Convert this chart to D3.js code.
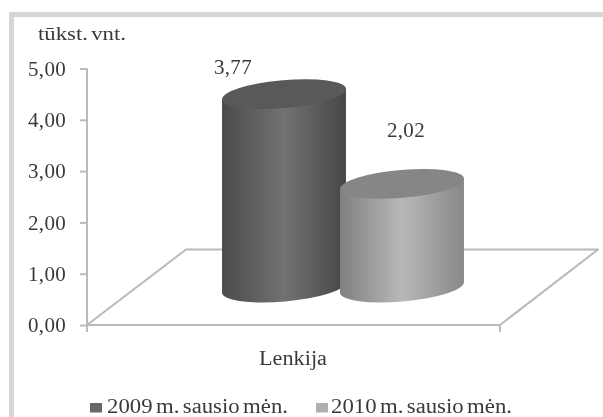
<!DOCTYPE html>
<html><head><meta charset="utf-8">
<script src="https://cdn.jsdelivr.net/npm/d3@7"></script>
<style>html,body{margin:0;padding:0;background:#fff}svg{display:block;filter:blur(0.45px)}text{font-family:"Liberation Serif",serif;fill:#3a3a3a}</style>
</head><body><div id="c"></div>
<script>
const series = ["2009 m. sausio mėn.", "2010 m. sausio mėn."];
const values = [3.77, 2.02];
const labels = ["3,77", "2,02"];
const category = "Lenkija";
const unit = "tūkst. vnt.";
const yTicks = [0, 1, 2, 3, 4, 5];
const sideColors = [["#4b4b4d", "#717274", "#47474a"], ["#7f8082", "#b7b8ba", "#87888a"]];
const topColors = ["#59595b", "#858688"];
const swatches = ["#68686a", "#aeafb1"];

const W = 603, H = 417;
const svg = d3.select("#c").append("svg").attr("width", W).attr("height", H);
const defs = svg.append("defs");
// frame
svg.append("rect").attr("x", 9).attr("y", 12).attr("width", W).attr("height", H).attr("fill", "#d5d6d6");
svg.append("rect").attr("x", 14).attr("y", 17).attr("width", W).attr("height", H).attr("fill", "#fff");

const y = d3.scaleLinear().domain([0, 5]).range([325, 68.5]);
const x = d3.scaleBand().domain(series).range([225, 461]);
const axisColor = "#b9babc";

// floor
const floorBack = 249.5, floorFront = y(0);
svg.append("path").attr("d", d3.line()([[87, floorFront], [186, floorBack], [598, floorBack], [500, floorFront], [87, floorFront]]))
  .attr("fill", "none").attr("stroke", axisColor).attr("stroke-width", 2).attr("stroke-linejoin", "round");

// axis
const ax = svg.append("g").attr("transform", "translate(87,0)").call(
  d3.axisLeft(y).tickValues(yTicks).tickSize(7).tickPadding(14)
    .tickFormat(d => d3.format(".2f")(d).replace(".", ",")));
ax.selectAll("path,line").attr("stroke", axisColor).attr("stroke-width", 2);
ax.select("path").attr("d", `M0,${y(5)}V${y(0)}`);
ax.selectAll("text").attr("font-size", 21).attr("fill", "#3a3a3a").style("letter-spacing", "0.3px");
// x ticks
svg.selectAll(".xt").data([87, 500]).join("line").attr("x1", d => d).attr("x2", d => d)
  .attr("y1", floorFront).attr("y2", floorFront + 7).attr("stroke", axisColor).attr("stroke-width", 2);

// cylinders
const tilt = -5, baseY = 287.5, unitPx = y(0) - y(1), ry = 14;
values.forEach((v, i) => {
  const s = series[i], cx = x(s) + x.bandwidth() / 2, halfW = x.bandwidth() * 0.525;
  const rad = -tilt * Math.PI / 180, rx = halfW / Math.cos(rad), dy = halfW * Math.tan(rad);
  const g = defs.append("linearGradient").attr("id", "g" + i);
  sideColors[i].forEach((c, k) => g.append("stop").attr("offset", k / 2).attr("stop-color", c));
  const topY = baseY - v * unitPx;
  svg.append("path")
    .attr("d", `M${cx - halfW},${topY + dy} L${cx - halfW},${baseY + dy} A${rx},${ry} ${tilt} 0 0 ${cx + halfW},${baseY - dy} L${cx + halfW},${topY - dy} Z`)
    .attr("fill", `url(#g${i})`);
  svg.append("ellipse").attr("rx", rx).attr("ry", ry)
    .attr("transform", `translate(${cx},${topY}) rotate(${tilt})`).attr("fill", topColors[i]);
});

// value labels
const labelPos = [[233, 74], [406, 137]];
labels.forEach((t, i) => svg.append("text").attr("x", labelPos[i][0]).attr("y", labelPos[i][1])
  .attr("text-anchor", "middle").attr("font-size", 21).style("letter-spacing", "0.3px").text(t));

// text
const stretched = (t, px, py, size, len) => svg.append("text").attr("x", px).attr("y", py).attr("font-size", size)
  .attr("textLength", len).attr("lengthAdjust", "spacingAndGlyphs").style("word-spacing", "-2px").text(t);
stretched(unit, 38, 40, 18, 88);
stretched(category, 259, 365, 20, 68);

// legend
const legendX = [90, 316];
series.forEach((s, i) => {
  svg.append("rect").attr("x", legendX[i]).attr("y", 403).attr("width", 12).attr("height", 9.5).attr("fill", swatches[i]);
  stretched(s, legendX[i] + 17 - i * 2, 413, 20, 181);
});
</script></body></html>
